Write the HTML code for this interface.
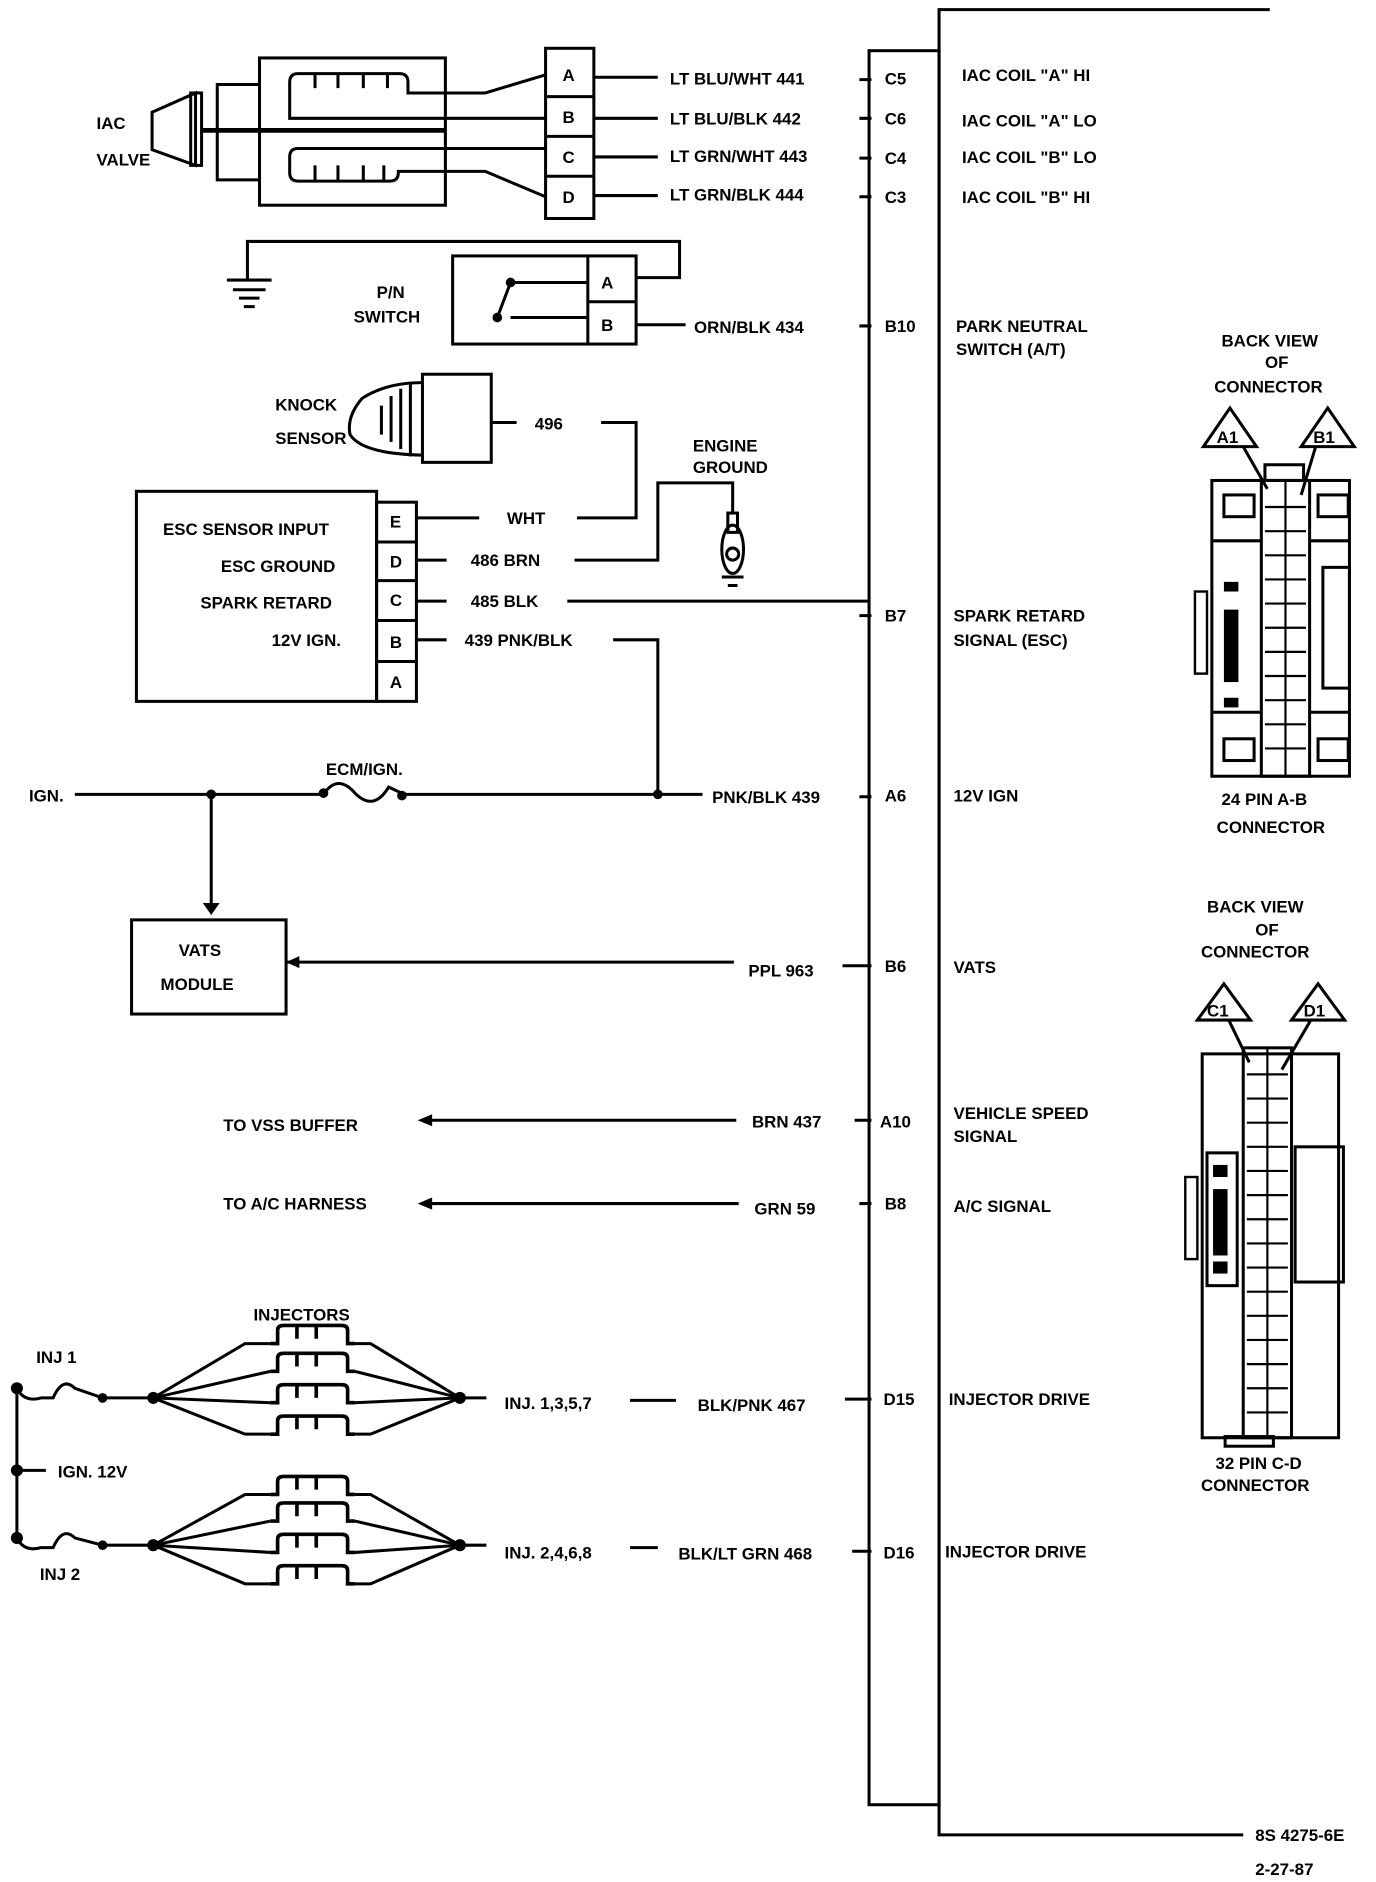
<!DOCTYPE html>
<html><head><style>
html,body{margin:0;padding:0;background:#fff;}
svg{display:block;}
text{font-family:"Liberation Sans",sans-serif;font-weight:bold;font-size:14px;fill:#000;}
</style></head><body>
<svg width="1376" height="1882" viewBox="0 0 1140 1559" preserveAspectRatio="none" xmlns="http://www.w3.org/2000/svg">
<defs>
<path id="coil" d="M0,0 H6 V-11 Q6,-15 11,-15 H59 Q64,-15 64,-11 V0 H70 M22,-15 V-4 M38,-15 V-4" fill="none" stroke="#000" stroke-width="3"/>
</defs>
<g fill="none" stroke="#000" stroke-width="2.5">
<!-- ECM block -->
<rect x="720" y="42" width="58" height="1453"/>
<polyline points="1052,8 778,8 778,1520 1030,1520"/>
<!-- IAC valve -->
<polygon points="126,93 162,77 162,137 126,124"/>
<rect x="158" y="77" width="9" height="60"/>
<rect x="180" y="70" width="35" height="79"/>
<rect x="215" y="48" width="154" height="122"/>
<line x1="167" y1="108" x2="369" y2="108" stroke-width="4"/>
<path d="M452,98 H240 V68 Q240,61 247,61 H331 Q338,61 338,68 V77 H402 L452,62"/>
<path d="M261,61 V73 M280,61 V73 M301,61 V73 M321,61 V73"/>
<path d="M452,123 H247 Q240,123 240,130 V143 Q240,150 247,150 H323 Q330,150 330,143 V142 H402 L452,163"/>
<path d="M261,150 V137 M280,150 V137 M301,150 V137 M318,150 V137"/>
<rect x="452" y="40" width="40" height="141"/>
<path d="M452,80 H492 M452,113 H492 M452,146 H492"/>
<path d="M492,64 H545 M492,98 H545 M492,130 H545 M492,162 H545"/>
<path d="M712,66 H722 M712,98 H722 M712,131 H722 M712,163 H722"/>
<!-- P/N switch -->
<polyline points="205,232 205,200 563,200 563,230 527,230"/>
<path d="M188,232 H225 M193,240 H220 M198,247 H215 M202,254 H211"/>
<rect x="375" y="212" width="152" height="73"/>
<path d="M487,212 V285 M487,250 H527"/>
<path d="M423,234 H487 M423,263 H487 M423,234 L412,263"/>
<path d="M527,269 H568 M712,270 H722"/>
<!-- Knock sensor -->
<rect x="350" y="310" width="57" height="73"/>
<path d="M350,317 Q320,317 300,330 Q287,345 290,360 Q300,376 350,377"/>
<path d="M340,318 V378 M332,322 V372 M324,328 V366 M316,336 V360"/>
<path d="M407,350 H428 M498,350 H527 V429 H478"/>
<!-- ESC module -->
<rect x="113" y="407" width="199" height="174"/>
<rect x="312" y="416" width="33" height="165"/>
<path d="M312,449 H345 M312,481 H345 M312,514 H345 M312,548 H345"/>
<path d="M345,429 H397 M345,464 H370 M345,498 H370 M345,530 H370"/>
<path d="M476,464 H545 V400 H607 V425"/>
<path d="M470,498 H720 M712,510 H722"/>
<path d="M508,530 H545 V658"/>
<ellipse cx="607" cy="455" rx="9" ry="20"/>
<rect x="603" y="425" width="8" height="16"/>
<circle cx="607" cy="459" r="5"/>
<path d="M598,478 H616 M603,485 H611"/>
<!-- IGN line -->
<path d="M62,658 H268 M335,658 H582 M712,660 H722"/>
<path d="M268,658 Q280,640 295,658 Q310,672 322,652 L335,658"/>
<path d="M175,658 V748"/>
<rect x="109" y="762" width="128" height="78"/>
<path d="M237,797 H608 M698,800 H722"/>
<path d="M350,928 H610 M708,928 H722"/>
<path d="M350,997 H612 M712,997 H722"/>
<!-- injectors -->
<path d="M14,1150 V1274 M14,1218 H38"/>
<path d="M14,1150 Q20,1162 34,1158 L44,1158 Q52,1140 62,1150 L85,1158 H127"/>
<path d="M14,1274 Q20,1286 34,1282 L44,1282 Q52,1264 62,1274 L85,1280 H127"/>
<polyline points="127,1158 203,1113 224,1113"/>
<polyline points="127,1158 224,1136"/>
<polyline points="127,1158 224,1162"/>
<polyline points="127,1158 203,1188 224,1188"/>
<polyline points="294,1113 307,1113 381,1158"/>
<polyline points="294,1136 381,1158"/>
<polyline points="294,1162 381,1158"/>
<polyline points="294,1188 307,1188 381,1158"/>
<polyline points="127,1280 203,1238 224,1238"/>
<polyline points="127,1280 224,1260"/>
<polyline points="127,1280 224,1286"/>
<polyline points="127,1280 203,1312 224,1312"/>
<polyline points="294,1238 307,1238 381,1280"/>
<polyline points="294,1260 381,1280"/>
<polyline points="294,1286 381,1280"/>
<polyline points="294,1312 307,1312 381,1280"/>
<path d="M381,1158 H403 M522,1160 H560 M700,1159 H722"/>
<path d="M381,1280 H403 M522,1282 H545 M706,1285 H722"/>
</g>
<use href="#coil" x="224" y="1113"/><use href="#coil" x="224" y="1136"/><use href="#coil" x="224" y="1162"/><use href="#coil" x="224" y="1188"/>
<use href="#coil" x="224" y="1238"/><use href="#coil" x="224" y="1260"/><use href="#coil" x="224" y="1286"/><use href="#coil" x="224" y="1312"/>
<g fill="#000">
<circle cx="175" cy="658" r="4"/><circle cx="545" cy="658" r="4"/><circle cx="268" cy="657" r="4"/><circle cx="333" cy="659" r="4"/>
<circle cx="14" cy="1150" r="5"/><circle cx="14" cy="1218" r="5"/><circle cx="14" cy="1274" r="5"/>
<circle cx="85" cy="1158" r="4"/><circle cx="85" cy="1280" r="4"/>
<circle cx="127" cy="1158" r="5"/><circle cx="127" cy="1280" r="5"/><circle cx="381" cy="1158" r="5"/><circle cx="381" cy="1280" r="5"/>
<circle cx="423" cy="234" r="4"/><circle cx="412" cy="263" r="4"/>
<polygon points="168,748 182,748 175,758"/>
<polygon points="237,797 248,792 248,802"/>
<polygon points="346,928 358,923 358,933"/>
<polygon points="346,997 358,992 358,1002"/>
</g>
<!-- connectors -->
<g fill="none" stroke="#000" stroke-width="2.5">
<rect x="1004" y="398" width="114" height="245"/>
<rect x="1045" y="398" width="40" height="245"/>
<path d="M1048,398 V385 H1080 V398"/>
<rect x="1014" y="410" width="25" height="18"/><rect x="1092" y="410" width="25" height="18"/>
<rect x="1014" y="612" width="25" height="18"/><rect x="1092" y="612" width="25" height="18"/>
<path d="M1004,448 H1045 M1004,590 H1045 M1085,448 H1118 M1085,590 H1118"/>
<rect x="1096" y="470" width="22" height="100"/>
<rect x="990" y="490" width="10" height="68" stroke-width="2"/>
<polygon points="997,370 1019,338 1041,370"/><polygon points="1078,370 1100,338 1122,370"/>
<path d="M1030,370 L1050,405 M1090,370 L1078,410"/>
<rect x="996" y="873" width="113" height="318"/>
<rect x="1030" y="868" width="40" height="323"/>
<rect x="1073" y="950" width="40" height="112"/>
<rect x="1000" y="955" width="25" height="110"/>
<rect x="982" y="975" width="10" height="68" stroke-width="2"/>
<rect x="1015" y="1190" width="40" height="8"/>
<polygon points="992,845 1014,815 1036,845"/><polygon points="1070,845 1092,815 1114,845"/>
<path d="M1018,845 L1035,880 M1086,845 L1062,886"/>
</g>
<g fill="none" stroke="#000" stroke-width="1.8">
<path d="M1048,420 H1082 M1048,440 H1082 M1048,460 H1082 M1048,480 H1082 M1048,500 H1082 M1048,520 H1082 M1048,540 H1082 M1048,560 H1082 M1048,580 H1082 M1048,600 H1082 M1048,620 H1082 M1065,398 V643"/>
<path d="M1033,890 H1067 M1033,910 H1067 M1033,930 H1067 M1033,950 H1067 M1033,970 H1067 M1033,990 H1067 M1033,1010 H1067 M1033,1030 H1067 M1033,1050 H1067 M1033,1070 H1067 M1033,1090 H1067 M1033,1110 H1067 M1033,1130 H1067 M1033,1150 H1067 M1033,1170 H1067 M1050,868 V1191"/>
</g>
<g fill="#000">
<rect x="1014" y="482" width="12" height="8"/><rect x="1014" y="505" width="12" height="60"/><rect x="1014" y="578" width="12" height="8"/>
<rect x="1005" y="965" width="12" height="10"/><rect x="1005" y="985" width="12" height="55"/><rect x="1005" y="1045" width="12" height="10"/>
</g>
<!-- text -->
<text x="80" y="107">IAC</text><text x="80" y="137">VALVE</text>
<text x="555" y="70">LT BLU/WHT  441</text>
<text x="555" y="103">LT BLU/BLK   442</text>
<text x="555" y="134">LT GRN/WHT 443</text>
<text x="555" y="166">LT GRN/BLK   444</text>
<g font-size="13">
<text x="466" y="67">A</text><text x="466" y="102">B</text><text x="466" y="135">C</text><text x="466" y="168">D</text>
<text x="498" y="239">A</text><text x="498" y="274">B</text>
<text x="323" y="437">E</text><text x="323" y="470">D</text><text x="323" y="502">C</text><text x="323" y="537">B</text><text x="323" y="570">A</text>
</g>
<text x="733" y="70">C5</text><text x="733" y="103">C6</text><text x="733" y="136">C4</text><text x="733" y="168">C3</text>
<text x="797" y="67">IAC COIL "A" HI</text>
<text x="797" y="105">IAC COIL "A" LO</text>
<text x="797" y="135">IAC COIL "B" LO</text>
<text x="797" y="168">IAC COIL "B" HI</text>
<text x="312" y="247">P/N</text><text x="293" y="267">SWITCH</text>
<text x="575" y="276">ORN/BLK  434</text>
<text x="733" y="275">B10</text>
<text x="792" y="275">PARK NEUTRAL</text><text x="792" y="294">SWITCH (A/T)</text>
<text x="228" y="340">KNOCK</text><text x="228" y="368">SENSOR</text>
<text x="443" y="356">496</text>
<text x="574" y="374">ENGINE</text><text x="574" y="392">GROUND</text>
<text x="420" y="434">WHT</text>
<text x="390" y="469">486 BRN</text>
<text x="390" y="503">485 BLK</text>
<text x="385" y="535">439 PNK/BLK</text>
<text x="135" y="443">ESC SENSOR INPUT</text>
<text x="183" y="474">ESC GROUND</text>
<text x="166" y="504">SPARK RETARD</text>
<text x="225" y="535">12V IGN.</text>
<text x="733" y="515">B7</text>
<text x="790" y="515">SPARK RETARD</text><text x="790" y="535">SIGNAL (ESC)</text>
<text x="24" y="664">IGN.</text>
<text x="270" y="642">ECM/IGN.</text>
<text x="590" y="665">PNK/BLK 439</text>
<text x="733" y="664">A6</text>
<text x="790" y="664">12V IGN</text>
<text x="148" y="792">VATS</text><text x="133" y="820">MODULE</text>
<text x="620" y="809">PPL 963</text>
<text x="733" y="805">B6</text><text x="790" y="806">VATS</text>
<text x="185" y="937">TO  VSS BUFFER</text>
<text x="623" y="934">BRN 437</text>
<text x="729" y="934">A10</text>
<text x="790" y="927">VEHICLE SPEED</text><text x="790" y="946">SIGNAL</text>
<text x="185" y="1002">TO A/C HARNESS</text>
<text x="625" y="1006">GRN 59</text>
<text x="733" y="1002">B8</text>
<text x="790" y="1004">A/C SIGNAL</text>
<text x="210" y="1094">INJECTORS</text>
<text x="30" y="1129">INJ 1</text>
<text x="48" y="1224">IGN. 12V</text>
<text x="33" y="1309">INJ 2</text>
<text x="418" y="1167">INJ. 1,3,5,7</text>
<text x="578" y="1169">BLK/PNK 467</text>
<text x="732" y="1164">D15</text>
<text x="786" y="1164">INJECTOR DRIVE</text>
<text x="418" y="1291">INJ. 2,4,6,8</text>
<text x="562" y="1292">BLK/LT GRN 468</text>
<text x="732" y="1291">D16</text>
<text x="783" y="1290">INJECTOR DRIVE</text>
<text x="1012" y="287">BACK VIEW</text><text x="1048" y="305">OF</text><text x="1006" y="325">CONNECTOR</text>
<text x="1008" y="367" font-size="13">A1</text><text x="1088" y="367" font-size="13">B1</text>
<text x="1012" y="667">24 PIN  A-B</text><text x="1008" y="690">CONNECTOR</text>
<text x="1000" y="756">BACK VIEW</text><text x="1040" y="775">OF</text><text x="995" y="793">CONNECTOR</text>
<text x="1000" y="842" font-size="13">C1</text><text x="1080" y="842" font-size="13">D1</text>
<text x="1007" y="1217">32  PIN C-D</text><text x="995" y="1235">CONNECTOR</text>
<text x="1040" y="1525">8S 4275-6E</text>
<text x="1040" y="1553">2-27-87</text>
</svg>
</body></html>
